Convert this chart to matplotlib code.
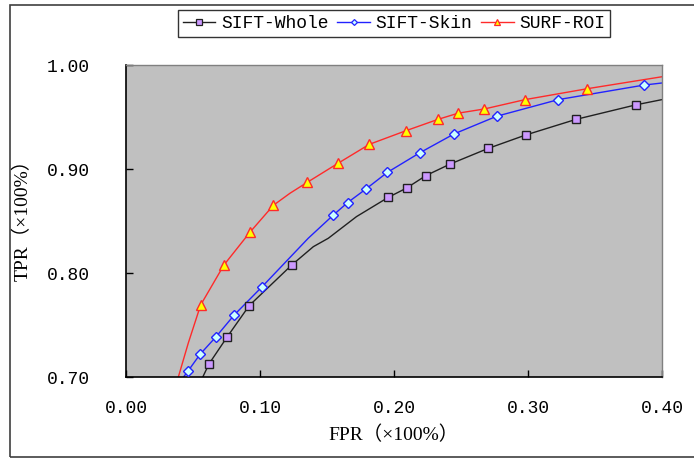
import numpy as np
import matplotlib.pyplot as plt
from matplotlib.lines import Line2D
from matplotlib.patches import Rectangle

# marker points
whole_fpr = [0.062, 0.0756, 0.092, 0.1237, 0.1957, 0.2094, 0.2239, 0.2418, 0.2701, 0.2983, 0.3358, 0.3806]
whole_tpr = [0.713, 0.739, 0.769, 0.808, 0.873, 0.882, 0.894, 0.905, 0.920, 0.933, 0.948, 0.962]
skin_fpr = [0.0465, 0.0552, 0.0672, 0.0808, 0.1015, 0.1547, 0.1654, 0.179, 0.195, 0.2194, 0.2448, 0.2766, 0.3226, 0.3866]
skin_tpr = [0.7064, 0.722, 0.739, 0.760, 0.787, 0.856, 0.868, 0.881, 0.897, 0.916, 0.934, 0.951, 0.967, 0.981]
roi_fpr = [0.0557, 0.0731, 0.0925, 0.110, 0.1353, 0.1585, 0.1816, 0.2087, 0.2328, 0.248, 0.2674, 0.2978, 0.3443]
roi_tpr = [0.7695, 0.808, 0.8395, 0.8654, 0.8875, 0.906, 0.924, 0.937, 0.948, 0.954, 0.958, 0.967, 0.9775]

# extra curve points (between markers / at the ends)
whole_extra_fpr = [0.0572, 0.1398, 0.151, 0.172, 0.40]
whole_extra_tpr = [0.700, 0.8256, 0.8337, 0.8545, 0.967]
skin_extra_fpr = [0.0428, 0.136, 0.40]
skin_extra_tpr = [0.700, 0.8337, 0.983]
roi_extra_fpr = [0.039, 0.0465, 0.1224, 0.40]
roi_extra_tpr = [0.700, 0.733, 0.877, 0.989]

x_ticks = [0.0, 0.1, 0.2, 0.3, 0.4]
y_ticks = [0.7, 0.8, 0.9, 1.0]


def curve(fx, fy, ex, ey):
    x = np.array(fx + ex)
    y = np.array(fy + ey)
    o = np.argsort(x)
    return x[o], y[o]


fig = plt.figure(figsize=(6.94, 4.59), dpi=100)
ax = fig.add_axes([126 / 694, 1 - 377.3 / 459, 536 / 694, 312 / 459])
ax.set_facecolor('#c0c0c0')

series = [
    (whole_fpr, whole_tpr, whole_extra_fpr, whole_extra_tpr, '#202020', 's', '#cc99ff', '#202020', 6.3, 'SIFT-Whole'),
    (skin_fpr, skin_tpr, skin_extra_fpr, skin_extra_tpr, '#2222ff', 'D', '#ccffff', '#2222ff', 4.8, 'SIFT-Skin'),
    (roi_fpr, roi_tpr, roi_extra_fpr, roi_extra_tpr, '#ff2a2a', '^', '#ffff00', '#ff2a2a', 6.8, 'SURF-ROI'),
]
handles = []
for fx, fy, ex, ey, lc, mk, mfc, mec, ms, lab in series:
    cx, cy = curve(fx, fy, ex, ey)
    ax.plot(cx, cy, color=lc, lw=1.0, zorder=2)
    ax.plot(fx, fy, ls='none', marker=mk, ms=ms, mfc=mfc, mec=mec, mew=1.0, zorder=3)
    handles.append(Line2D([], [], color=lc, lw=1.0, marker=mk, ms=ms - 1.8, mfc=mfc, mec=mec, mew=0.9, label=lab))

ax.set_xlim(0, 0.4)
ax.set_ylim(0.7, 1.0)
ax.set_xticks(x_ticks)
ax.set_yticks(y_ticks)
ax.set_xticklabels([f'{v:.2f}' for v in x_ticks], family='Liberation Mono', fontsize=13)
ax.set_yticklabels([f'{v:.2f}' for v in y_ticks], family='Liberation Mono', fontsize=13)
ax.tick_params(direction='in', length=5, width=1, colors='black')
ax.tick_params(axis='x', pad=16)
ax.tick_params(axis='y', pad=26)
for s in ['left', 'bottom']:
    ax.spines[s].set_color('black')
    ax.spines[s].set_linewidth(1.2)
for s in ['top', 'right']:
    ax.spines[s].set_color('#808080')
    ax.spines[s].set_linewidth(1.0)

lab_font = ['Liberation Serif', 'Noto Sans CJK SC']
ax.set_xlabel('FPR（×100%）', family=lab_font, fontsize=14)
ax.set_ylabel('TPR（×100%）', family=lab_font, fontsize=14)
ax.xaxis.set_label_coords(0.5, -0.155)
ax.yaxis.set_label_coords(-0.175, 0.52)

leg = fig.legend(handles=handles, loc='center', bbox_to_anchor=(394 / 694, 1 - 23.5 / 459), ncol=3,
                 frameon=True, fancybox=False, shadow=False, handlelength=1.8, handletextpad=0.3,
                 columnspacing=0.5, borderpad=0.25, prop={'family': 'Liberation Mono', 'size': 13})
leg.get_frame().set_edgecolor('black')
leg.get_frame().set_linewidth(1.0)

# outer chart border
fig.patches.append(Rectangle((10 / 694, 2 / 459), 1.0, 1 - 7 / 459, transform=fig.transFigure,
                             fill=False, edgecolor='#404040', lw=1.2))

fig.savefig('out.png', dpi=100)
